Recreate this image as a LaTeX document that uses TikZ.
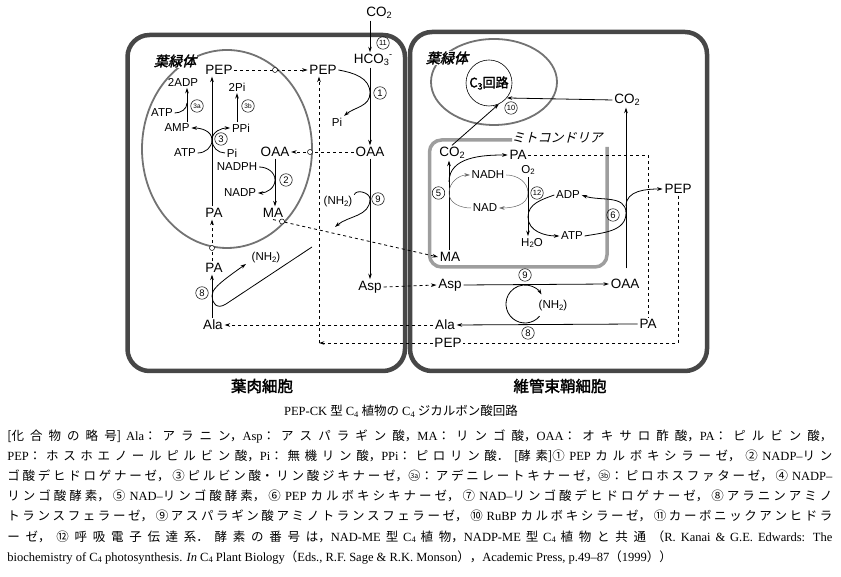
\documentclass[tikz,border=0pt]{standalone}
\usepackage{fontspec}
\setmainfont{Liberation Serif}
\setsansfont{Liberation Sans}
\newfontfamily\jpfont{Noto Sans CJK JP}
\newfontfamily\jpbold{Noto Sans CJK JP}[FakeBold=2]
\newfontfamily\jpital{Noto Sans CJK JP}[FakeSlant=0.25]
\newfontfamily\jpboldit{Noto Sans CJK JP}[FakeBold=2,FakeSlant=0.25]
\usepackage[dvipsnames]{xcolor}
\usepackage{tikz}
\usetikzlibrary{positioning, arrows.meta}
\XeTeXlinebreaklocale "ja"
\XeTeXlinebreakskip=0pt plus 5pt

\newcommand\cpdsize{\fontsize{13.5}{15}\selectfont}
\newcommand\cofsize{\fontsize{11.5}{13}\selectfont}
\newcommand\jtxt[1]{{\jpfont #1}}
\newcommand\lw[1]{\raisebox{-0.3ex}{\scalebox{0.68}{#1}}}
\newcommand\hg[1]{\raisebox{0.8ex}{\scalebox{0.68}{#1}}}
\newcommand\cnum[1]{{\jpfont\ooalign{\hfil\raisebox{0.14em}{\scalebox{0.55}{#1}}\hfil\crcr ○}}}

\begin{document}
\begin{tikzpicture}[x=1pt, y=1pt, line width=0.8pt, >={Stealth[length=5.5pt, width=3.6pt]},
  cell/.style={draw=black!72, line width=4.5pt, rounded corners=22pt},
  plastid/.style={draw=black!55, line width=1.8pt},
  mito/.style={draw=black!38, line width=3.5pt, rounded corners=12pt},
  cpd/.style={inner sep=1.5pt, font=\sffamily\cpdsize},
  cof/.style={inner sep=1.5pt, font=\sffamily\cofsize},
  enz/.style={circle, draw, line width=0.5pt, inner sep=0pt, minimum size=12.5pt, font=\sffamily\fontsize{9.5}{9.5}\selectfont},
  enzz/.style={enz, font=\sffamily\fontsize{7.5}{7.5}\selectfont},
  enzab/.style={enz, font=\sffamily\fontsize{6.5}{6.5}\selectfont},
  memb/.style={circle, draw, fill=white, line width=0.5pt, inner sep=0pt, minimum size=5pt},
  pass/.style={dashed, ->},
  cofline/.style={->, line width=0.5pt, draw=black!60},
  cellname/.style={font=\jpbold\fontsize{15.5}{17}\selectfont},
  caption/.style={anchor=west, inner sep=0pt, font=\rmfamily\fontsize{12.5}{20.2}\selectfont}]

    \useasboundingbox (0,0) rectangle (841,577);

    % Cells and organelles
    \draw[cell] (127.5,542) rectangle (405,206);
    \draw[cell] (410,545) rectangle (707,206);
    \draw[plastid] (227,428) ellipse[x radius=85, y radius=99];
    \draw[plastid] (494,495) ellipse[x radius=63, y radius=43];
    \draw[mito] (512,437) -- (429.5,437) -- (429.5,310) -- (607,310) -- (607,430);

    \node[font=\jpboldit\fontsize{14}{16}\selectfont, fill=white, inner sep=1pt] (chlL) at (175,516) {葉緑体};
    \node[font=\jpboldit\fontsize{14}{16}\selectfont, fill=white, inner sep=1pt] (chlR) at (447,519) {葉緑体};
    \node[font=\jpital\fontsize{13}{15}\selectfont] (mitoname) at (557,439) {ミトコンドリア};
    \node[cellname] (meso) at (262,191) {葉肉細胞};
    \node[cellname] (bundle) at (560,191) {維管束鞘細胞};
    \node[circle, draw, line width=0.6pt, minimum size=46pt, inner sep=0pt, font=\jpbold\fontsize{13}{15}\selectfont] (c3) at (489,494) {C\lw{3}回路};

    % Columns and touch points
    \coordinate (colA) at (370,0);
    \coordinate (colB) at (212,0);
    \coordinate (colC) at (275,0);
    \coordinate (colD) at (187,0);
    \coordinate (colE) at (237,0);
    \coordinate (colM) at (449,0);
    \coordinate (colO) at (528,0);
    \coordinate (colF) at (626,0);
    \coordinate (colR) at (319,0);
    \coordinate (t1) at (370,484);
    \coordinate (t2) at (275,397);
    \coordinate (t3) at (212,437);
    \coordinate (t3a) at (187,474);
    \coordinate (t9) at (370,378);
    \coordinate (end9) at (335,350);
    \coordinate (t5) at (449,384);
    \coordinate (c5) at (449,395);
    \coordinate (t12) at (528,384);
    \coordinate (t12b) at (528,360);
    \coordinate (t6) at (626,364);
    \coordinate (t6b) at (626,371);
    \coordinate (hp1) at (312,330);
    \coordinate (hp2) at (226,273);
    \coordinate (hp3) at (212,281);
    \coordinate (hp4) at (246,313);
    \coordinate (cpep) at (319,234);
    \coordinate (lp) at (525,273);

    % Nodes: mesophyll cell
    \node[cpd] (co2t)  at (379,564) {CO\lw{2}};
    \node[enzz] (e11)  at (383,534) {11};
    \node[cpd] (hco3)  at (373,517) {HCO\lw{3}\hg{-}};
    \node[cpd] (pepc)  at (219,507) {PEP};
    \node[cpd] (pepu)  at (323,507) {PEP};
    \node[enz] (e1)    [right=3.5pt of t1] {1};
    \node[cof] (pi1)   at (337,455) {Pi};
    \node[cpd] (oaau)  at (370,425) {OAA};
    \node[cpd] (oaac)  at (275,425) {OAA};
    \node[enz] (e9u)   [right=1.5pt of t9] {9};
    \node[cof] (nh2u)  at (338,375) {(NH\lw{2})};
    \node[cpd] (aspu)  at (370,290) {Asp};
    \node[cof] (adp2)  at (183,495) {2ADP};
    \node[enzab] (e3a) at (197,471) {3a};
    \node[cof] (atpa)  at (162,464) {ATP};
    \node[cof] (amp)   at (177,449) {AMP};
    \node[cof] (pi2)   at (237,490) {2Pi};
    \node[enzab] (e3b) at (248,471) {3b};
    \node[cof] (ppi)   at (241,449) {PPi};
    \node[enz] (e3)    at (221,438) {3};
    \node[cof] (atpb)  at (185,424) {ATP};
    \node[cof] (pib)   at (232,424) {Pi};
    \node[cof] (nadph) at (237,410) {NADPH};
    \node[enz] (e2)    [right=4.5pt of t2] {2};
    \node[cof] (nadp)  at (240,384) {NADP};
    \node[cpd] (pal)   at (214,364) {PA};
    \node[cpd] (mal)   at (273,364) {MA};
    \node[cpd] (pall)  at (214,309) {PA};
    \node[enz] (e8l)   at (202,284) {8};
    \node[cof] (nh2l)  at (266,319) {(NH\lw{2})};
    \node[cpd] (alal)  at (213,252) {Ala};

    % Nodes: bundle sheath cell
    \node[enzz] (e10)  at (511,469) {10};
    \node[cpd] (co2r)  at (627,477) {CO\lw{2}};
    \node[cpd] (co2m)  at (452,424) {CO\lw{2}};
    \node[cpd] (pam)   at (518,422) {PA};
    \node[cof] (nadh)  at (488,402) {NADH};
    \node[cof] (o2)    at (528,407) {O\lw{2}};
    \node[enz] (e5)    [left=4pt of t5] {5};
    \node[enzz] (e12)  [right=2.5pt of t12] {12};
    \node[cof] (nad)   at (485,369) {NAD};
    \node[cof] (adp)   at (568,382) {ADP};
    \node[enz] (e6)    at (613,362) {6};
    \node[cpd] (pepr)  at (678,388) {PEP};
    \node[cof] (atp)   at (572,341) {ATP};
    \node[cof] (h2o)   at (532,334) {H\lw{2}O};
    \node[cpd] (mar)   at (450,320) {MA};
    \node[enz] (e9r)   at (525,302) {9};
    \node[cpd] (aspr)  at (450,292) {Asp};
    \node[cpd] (oaar)  at (625,293) {OAA};
    \node[cof] (nh2r)  at (553,271) {(NH\lw{2})};
    \node[cpd] (alar)  at (445,252) {Ala};
    \node[cpd] (par)   at (648,253) {PA};
    \node[enz] (e8r)   at (528,244) {8};
    \node[cpd] (pepb)  at (448,234) {PEP};

    % Lines: mesophyll ---------------
    \draw[->] (colA |- co2t.south) -- (colA |- hco3.north);
    \draw[->] (colA |- hco3.south) -- (colA |- oaau.north);
    \draw[->] (pepu.east) to[out=-10, in=90] (t1) to[out=-90, in=40] (pi1.north east);
    \draw[->] (colA |- oaau.south) -- (colA |- aspu.north);
    \draw[->] (nh2u.north east) to[out=70, in=90] (t9) to[out=-90, in=40] (end9);
    \draw[->] (colB |- pal.north) -- (colB |- pepc.south);
    \draw[->] (colC |- oaac.south) -- (colC |- mal.north);
    \draw[->] (nadph.east) to[out=0, in=90] (t2) to[out=-90, in=0] (nadp.east);
    \draw[->] (atpb.east) to[out=0, in=-90] (t3) to[out=90, in=0] (amp.east);
    \draw[->] (pib.west) to[out=180, in=-90] (t3) to[out=90, in=180] (ppi.west);
    \draw (atpa.east) to[out=0, in=-90] (t3a);
    \draw[->] (colD |- amp.north) -- (colD |- adp2.south);
    \draw[->] (colE |- ppi.north) -- (colE |- pi2.south);
    \draw[->] (colB |- alal.north) -- (colB |- pall.south);
    \draw[->] (hp1) -- (hp2) .. controls (216.8,267) and (212,274) .. (hp3) .. controls (212,287) and (216,292) .. (hp4);

    % Lines: transport ---------------
    \draw[pass] (pepc.east) -- (pepu.west);
    \draw[pass] (oaau.west) -- (oaac.east);
    \draw[pass] (mal.south) -- (mar.west);
    \draw[pass] (colB |- pall.north) -- (colB |- pal.south);
    \draw[pass] (aspu.east) -- (aspr.west);
    \draw[pass] (alar.west) -- (alal.east);
    \draw[pass] (pepb.west) -- (cpep);
    \draw[pass] (cpep) -- (colR |- pepu.south);
    \draw[dashed] (pepr.south) |- (pepb.east);
    \draw[dashed] (pam.east) -| (par.north);
    \node[memb] (m1) at (275,507) {};
    \node[memb] (m2) at (310,425) {};
    \node[memb] (m3) at (282,355.5) {};
    \node[memb] (m4) at (212,329) {};

    % Lines: bundle sheath ---------------
    \draw[->] (colM |- mar.north) -- (colM |- co2m.south);
    \draw[->] (c5) to[out=90, in=180] (pam.west);
    \draw[cofline] (nad.west) to[out=180, in=-90] (t5) to[out=90, in=180] (nadh.west);
    \draw[cofline] (nadh.east) to[out=0, in=90] (t12) to[out=-90, in=0] (nad.east);
    \draw[->] (colO |- o2.south) -- (colO |- h2o.north);
    \draw[->] (adp.west) to[out=200, in=90] (t12b) to[out=-90, in=180] (atp.west);
    \draw[->] (atp.east) to[out=10, in=-90] (t6) to[out=90, in=-20] (adp.east);
    \draw[->] (t6b) to[out=90, in=180] (pepr.west);
    \draw[->, shorten <=9pt] (colF |- oaar.north) -- (colF |- co2r.south);
    \draw[->] (co2r.west) -- (c3.-40);
    \draw[->] (co2m.north) -- (c3.-65);
    \draw[->] (aspr.east) -- (oaar.west);
    \draw[->] (par.west) -- (alar.east);
    \draw[->] (lp) ++(-40:19) arc[start angle=-40, end angle=-330, radius=19];

    % Caption
    \node[caption, anchor=center] (title) at (401,166) {PEP-CK \jtxt{型} C\lw{4} \jtxt{植物の} C\lw{4} \jtxt{ジカルボン酸回路}};
    \node[caption, anchor=north west, text width=825pt, align=justify] (legend) at (7,148) {\noindent\tolerance=10000\hbadness=10000
      \jtxt{[化合物の略号]} Ala\jtxt{：アラニン，}Asp\jtxt{：アスパラギン酸，}MA\jtxt{：リンゴ酸，}OAA\jtxt{：オキサロ酢酸，}PA\jtxt{：ピルビン酸，}\linebreak
      PEP\jtxt{：ホスホエノールピルビン酸，}Pi\jtxt{：無機リン酸，}PPi\jtxt{：ピロリン酸．[酵素]}\jtxt{①} PEP \jtxt{カルボキシラーゼ，②} NADP--\jtxt{リン}\linebreak
      \jtxt{ゴ酸デヒドロゲナーゼ，③ピルビン酸・リン酸ジキナーゼ，}\cnum{3a}\jtxt{：アデニレートキナーゼ，}\cnum{3b}\jtxt{：ピロホスファターゼ，④} NADP--\linebreak
      \jtxt{リンゴ酸酵素，⑤} NAD--\jtxt{リンゴ酸酵素，⑥} PEP \jtxt{カルボキシキナーゼ，⑦} NAD--\jtxt{リンゴ酸デヒドロゲナーゼ，⑧アラニンアミノ}\linebreak
      \jtxt{トランスフェラーゼ，⑨アスパラギン酸アミノトランスフェラーゼ，⑩} RuBP \jtxt{カルボキシラーゼ，⑪カーボニックアンヒドラ}\linebreak
      \jtxt{ーゼ，⑫呼吸電子伝達系．酵素の番号は，}NAD-ME \jtxt{型} C\lw{4} \jtxt{植物，}NADP-ME \jtxt{型} C\lw{4} \jtxt{植物と共通（}R. Kanai \& G.E. Edwards: The\linebreak
      biochemistry of C\lw{4} photosynthesis. \textit{In} C\lw{4} Plant Biology\jtxt{（}Eds., R.F. Sage \& R.K. Monson\jtxt{），}Academic Press, p.49--87\jtxt{（}1999\jtxt{））}\par};

\end{tikzpicture}
\end{document}
